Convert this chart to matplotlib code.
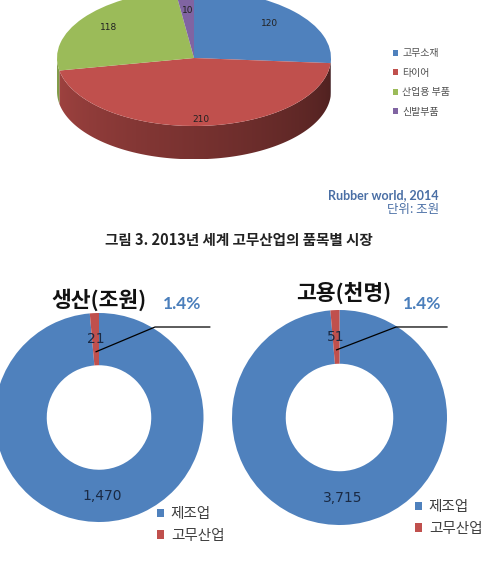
import numpy as np
import matplotlib
matplotlib.use('Agg')
import matplotlib.pyplot as plt
from matplotlib.patches import Polygon
from matplotlib.colors import to_rgb

plt.rcParams['font.family'] = ['Noto Sans CJK KR', 'DejaVu Sans']

# ---------------- data ----------------
market_labels = ['고무소재', '타이어', '산업용 부품', '신발부품']
market_values = [120, 210, 118, 10]
donut_labels = ['제조업', '고무산업']
production_values = [1470, 21]
employment_values = [3715, 51]
production_title = '생산(조원)'
employment_title = '고용(천명)'
share_text = '1.4%'
caption = '그림 3. 2013년 세계 고무산업의 품목별 시장'
source_text = 'Rubber world, 2014'
unit_text = '단위: 조원'

colors4 = ['#4f81bd', '#c0504d', '#9bbb59', '#8064a2']
donut_colors = ['#4f81bd', '#c0504d']

W, H = 489, 567
fig = plt.figure(figsize=(W / 100, H / 100), dpi=100)


def rect(x0, y0, x1, y1):
    return [x0 / W, 1 - y1 / H, (x1 - x0) / W, (y1 - y0) / H]


# ---------------- 3D pie ----------------
ax = fig.add_axes(rect(57, 0, 331, 170))
wedges, _ = ax.pie(market_values, colors=colors4, startangle=90,
                   counterclock=False, radius=1,
                   wedgeprops=dict(linewidth=0))
ax.set_aspect('auto')

depth = 0.49
total = sum(market_values)
bounds = 90 - 360 * np.concatenate([[0], np.cumsum(market_values)]) / total
xs = np.linspace(-1, 1, 400)
shade = 0.85 - 0.45 * np.degrees(np.arccos(-xs)) / 180  # left bright -> right dark
for i in range(len(market_values)):
    a0, a1 = bounds[i + 1], bounds[i]
    lo, hi = max(a0, -180), min(a1, 0)
    if lo >= hi:
        continue
    ts = np.radians(np.linspace(lo, hi, 200))
    top = np.column_stack([np.cos(ts), np.sin(ts)])
    bot = np.column_stack([np.cos(ts[::-1]), np.sin(ts[::-1]) - depth])
    poly = Polygon(np.vstack([top, bot]), closed=True, facecolor='none',
                   edgecolor='none', zorder=0.4)
    ax.add_patch(poly)
    grad = np.clip(np.array(to_rgb(colors4[i]))[None, None, :] * shade[None, :, None], 0, 1)
    im = ax.imshow(grad, extent=(-1, 1, -1 - depth, 0.1), aspect='auto',
                   interpolation='bilinear', zorder=0.5)
    im.set_clip_path(poly)
ax.set_xlim(-1, 1)
ax.set_ylim(-1.647, 0.853)
ax.axis('off')

label_r = [0.75, 0.9, 0.77, 0.7]
mids = np.radians((bounds[:-1] + bounds[1:]) / 2)
for v, m, r in zip(market_values, mids, label_r):
    ax.text(r * np.cos(m), r * np.sin(m), str(v), ha='center', va='center',
            fontsize=6.5, color='#222222', family=['DejaVu Sans'])

fig.legend(wedges, market_labels, loc='center left',
           bbox_to_anchor=(393 / W, 1 - 82.5 / H), frameon=False,
           fontsize=7.2, labelcolor='#505050', handlelength=0.55,
           handleheight=0.55, handletextpad=0.4, labelspacing=0.95,
           borderpad=0, borderaxespad=0)

fig.text(439 / W, 1 - 195 / H, source_text, ha='right', va='center',
         fontsize=9, fontweight='bold', color='#4a6fa5',
         family=['Lato', 'DejaVu Sans'])
fig.text(439 / W, 1 - 210 / H, unit_text, ha='right', va='center',
         fontsize=9, color='#4a6fa5')

fig.text(239 / W, 1 - 240 / H, caption, ha='center', va='center',
         fontsize=10.5, fontweight='bold', color='#222222')

# ---------------- donuts ----------------
configs = [
    dict(box=rect(-5.5, 313, 203.5, 522), values=production_values,
         title=production_title, title_xy=(99, 300), share_xy=(182.5, 304),
         elbow=(0.536, 0.866), end_x=1.06, legend_xy=(157, 525)),
    dict(box=rect(232, 310, 447, 525), values=employment_values,
         title=employment_title, title_xy=(344, 293), share_xy=(422.5, 304),
         elbow=(0.526, 0.842), end_x=1.0, legend_xy=(415, 518)),
]

for cfg in configs:
    dax = fig.add_axes(cfg['box'])
    vals = cfg['values']
    tot = sum(vals)
    dw, _, _ = dax.pie(vals, colors=donut_colors, startangle=90, counterclock=False,
                       radius=1, wedgeprops=dict(width=0.5, linewidth=0),
                       autopct=lambda p, t=tot: f'{round(p * t / 100):,}',
                       pctdistance=0.75,
                       textprops=dict(fontsize=10, color='#1a2a44',
                                      family=['DejaVu Sans']))
    dax.set_xlim(-1, 1)
    dax.set_ylim(-1, 1)
    dax.set_aspect('equal')
    dax.axis('off')
    mid = np.radians(90 + 360 * vals[1] / tot / 2)
    sx, sy = 0.63 * np.cos(mid), 0.63 * np.sin(mid)
    ex, ey = cfg['elbow']
    dax.plot([sx, ex, cfg['end_x']], [sy, ey, ey], color='black', lw=0.9,
             clip_on=False, zorder=5)
    tx, ty = cfg['title_xy']
    fig.text(tx / W, 1 - ty / H, cfg['title'], ha='center', va='center',
             fontsize=15.5, fontweight='bold', color='#111111')
    px, py = cfg['share_xy']
    fig.text(px / W, 1 - py / H, share_text, ha='center', va='center',
             fontsize=12.5, fontweight='bold', color='#4a7ebb',
             family=['Lato', 'DejaVu Sans'])
    lx, ly = cfg['legend_xy']
    fig.legend(dw, donut_labels, loc='center left',
               bbox_to_anchor=(lx / W, 1 - ly / H), frameon=False,
               fontsize=10.5, labelcolor='#404040', handlelength=0.5,
               handleheight=0.5, handletextpad=0.45, labelspacing=0.5,
               borderpad=0, borderaxespad=0)

fig.savefig('out.png', dpi=100)
